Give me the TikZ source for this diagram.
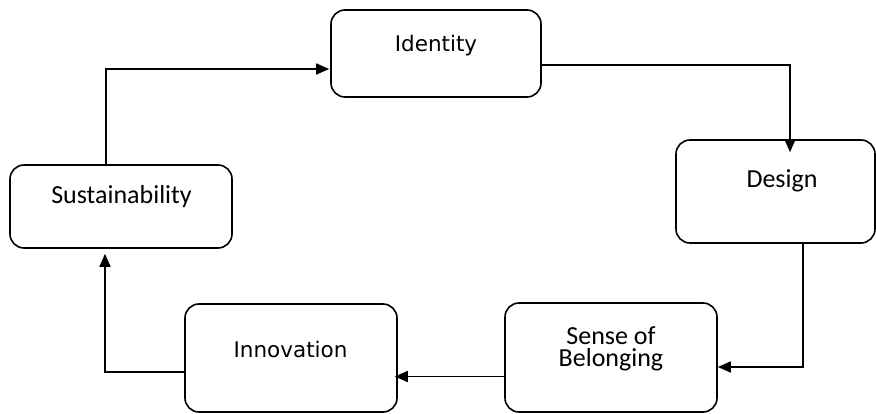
\documentclass[tikz,border=0pt]{standalone}
\usepackage{fontspec}
\setmainfont{Carlito}
\newfontfamily\dvfont{DejaVu Sans}
\usetikzlibrary{arrows.meta,positioning}
\tikzset{
	box/.style = {draw, line width=1.6pt, rounded corners=14pt, fill=white},
	cbtext/.style = {font=\fontsize{26}{22}\selectfont, inner sep=0pt, align=center, anchor=base},
	dvtext/.style = {font=\dvfont\fontsize{21.5}{24}\selectfont, inner sep=0pt, anchor=base},
	flow/.style = {line width=1.6pt, -{Triangle[length=13pt,width=11pt]}}
}
\begin{document}
\begin{tikzpicture}[x=1pt, y=-1pt]
		\useasboundingbox (0,0) rectangle (876,414);
		% boxes
		\node[box, minimum width=210pt, minimum height=87pt] (identity) at (436,53.5) {};
		\node[box, minimum width=199pt, minimum height=103pt] (design) at (775.5,191.5) {};
		\node[box, minimum width=212pt, minimum height=109pt] (sense) at (611,357.5) {};
		\node[box, minimum width=212pt, minimum height=108pt] (innovation) at (291,358) {};
		\node[box, minimum width=222pt, minimum height=83pt] (sustain) at (121,206.5) {};
		% texts
		\node[dvtext] (identitylabel) at (436,52) {Identity};
		\node[cbtext] (designlabel) at (782,188) {Design};
		\node[cbtext] (senselabel) at (611,366) {Sense of\\Belonging};
		\node[dvtext] (innovationlabel) at (290.5,357) {Innovation};
		\node[cbtext] (sustainlabel) at (121.5,204) {Sustainability};
		% cycle
		\draw[flow] ([xshift=-15pt]sustain.north) |- ([yshift=-15.5pt, xshift=-1pt]identity.west);
		\draw[flow] ([yshift=-11.5pt]identity.east) -| ([xshift=14.5pt, yshift=-13pt]design.north);
		\draw[flow] ([xshift=27.5pt]design.south) |- ([yshift=-9.5pt]sense.east);
		\draw[flow] ([yshift=-19pt]sense.west) -- ([yshift=-18.5pt, xshift=-3pt]innovation.east);
		\draw[flow] ([yshift=-14pt]innovation.west) -| ([xshift=-16pt, yshift=-5pt]sustain.south);
	\end{tikzpicture}
\end{document}
